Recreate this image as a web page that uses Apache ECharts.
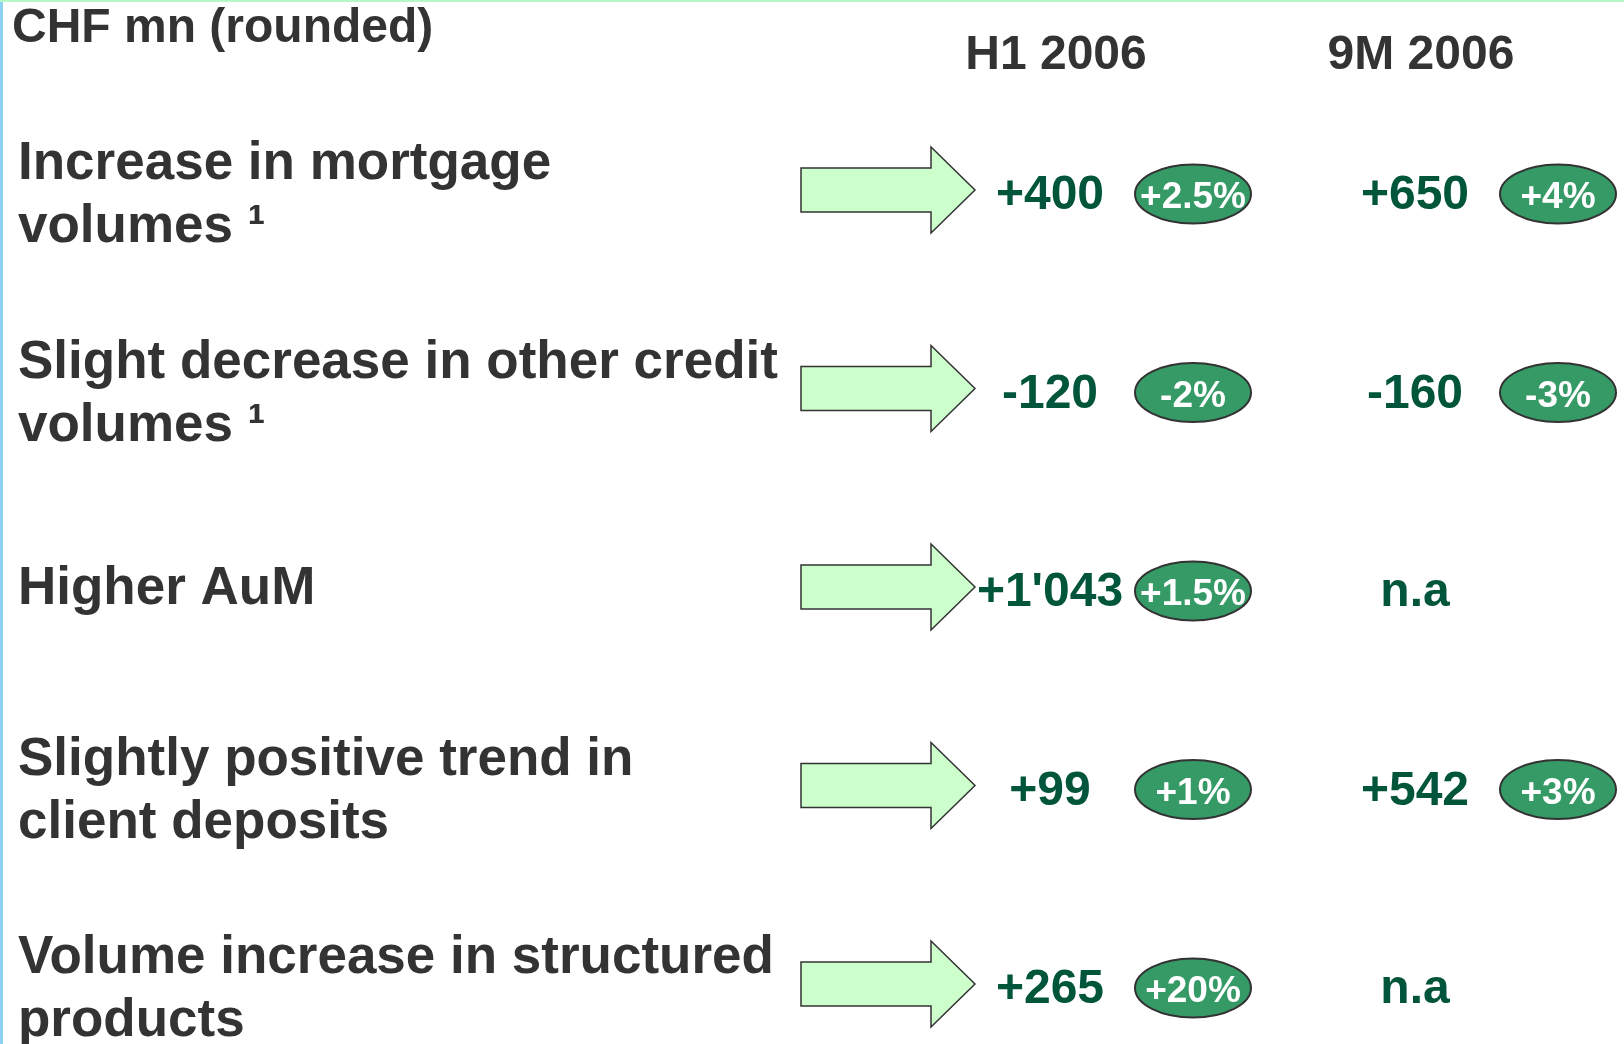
<!DOCTYPE html>
<html>
<head>
<meta charset="utf-8">
<script src="https://cdn.jsdelivr.net/npm/echarts@6/dist/echarts.min.js"></script>
<style>
  html, body { margin: 0; padding: 0; background: #fff; }
  #main { width: 1624px; height: 1044px; }
</style>
</head>
<body>
<div id="main"></div>
<script>
// data
const rowLabels = [
  'Increase in mortgage\nvolumes ¹',
  'Slight decrease in other credit\nvolumes ¹',
  'Higher AuM',
  'Slightly positive trend in\nclient deposits',
  'Volume increase in structured\nproducts'
];
const periods = ['H1 2006', '9M 2006'];
const h1Values = ['+400', '-120', "+1'043", '+99', '+265'];
const h1Pct = ['+2.5%', '-2%', '+1.5%', '+1%', '+20%'];
const m9Values = ['+650', '-160', 'n.a', '+542', 'n.a'];
const m9Pct = ['+4%', '-3%', null, '+3%', null];

const periodValues = [h1Values, m9Values];
const periodPct = [h1Pct, m9Pct];

const FONT = '"Liberation Sans", Arial, sans-serif';
const darkText = '#333333';
const valueGreen = '#00553a';

// 每行一个箭头，每个单元格一个数值
const arrowCells = rowLabels.map((r, i) => [0, i]);
const valueCells = [];
periods.forEach((p, pi) => {
  rowLabels.forEach((r, ri) => valueCells.push([pi, ri]));
});

const chart = echarts.init(document.getElementById('main'));

function renderArrow(params, api) {
  const c = api.coord([api.value(0), api.value(1)]);
  const x0 = c[0] - 249, xh = c[0] - 119, xt = c[0] - 75;
  const y = c[1] - 1;
  return {
    type: 'polygon',
    shape: {
      points: [
        [x0, y - 22], [xh, y - 22], [xh, y - 43], [xt, y],
        [xh, y + 43], [xh, y + 22], [x0, y + 22]
      ]
    },
    style: { fill: '#ccffcc', stroke: '#333333', lineWidth: 1.5 }
  };
}

function renderCell(params, api) {
  const pi = api.value(0), ri = api.value(1);
  const c = api.coord([pi, ri]);
  const children = [{
    type: 'text',
    style: {
      text: periodValues[pi][ri], x: c[0], y: c[1] + 5,
      fill: valueGreen, font: 'bold 48px ' + FONT,
      align: 'center', verticalAlign: 'middle'
    }
  }];
  const pct = periodPct[pi][ri];
  if (pct) {
    const ex = c[0] + 143, ey = c[1] + 3;
    children.push({
      type: 'ellipse',
      shape: { cx: ex, cy: ey, rx: 58, ry: 29.5 },
      style: { fill: '#359a66', stroke: '#333333', lineWidth: 2 }
    });
    children.push({
      type: 'text',
      style: {
        text: pct, x: ex, y: ey + 4,
        fill: '#ffffff', font: 'bold 37px ' + FONT,
        align: 'center', verticalAlign: 'middle'
      }
    });
  }
  return { type: 'group', children: children };
}

chart.setOption({
  animation: false,
  backgroundColor: '#ffffff',
  title: {
    text: 'CHF mn (rounded)',
    left: 12, top: 5, padding: 0,
    textStyle: { fontFamily: FONT, fontSize: 48, fontWeight: 'bold', color: darkText }
  },
  graphic: [
    { type: 'rect', left: 0, top: 0, shape: { width: 3, height: 1044 }, style: { fill: '#8fd0f5' } },
    { type: 'rect', left: 0, top: 0, shape: { width: 1624, height: 2 }, style: { fill: '#b6f7c8' } }
  ],
  grid: { left: 1050, right: 209, top: 191, bottom: 59, outerBoundsMode: 'none' },
  xAxis: {
    type: 'category',
    data: periods,
    position: 'top',
    boundaryGap: false,
    axisLine: { show: false },
    axisTick: { show: false },
    splitLine: { show: false },
    axisLabel: {
      interval: 0,
      margin: 135,
      verticalAlign: 'middle',
      padding: [0, 0, 0, 12],
      fontFamily: FONT, fontSize: 48, fontWeight: 'bold', color: darkText
    }
  },
  yAxis: {
    type: 'category',
    data: rowLabels,
    inverse: true,
    boundaryGap: false,
    axisLine: { show: false },
    axisTick: { show: false },
    splitLine: { show: false },
    axisLabel: {
      interval: 0,
      align: 'left',
      margin: 1032,
      lineHeight: 63,
      padding: [10, 0, 0, 0],
      formatter: function (v) {
        return v.indexOf('\n') < 0 ? '{one|' + v + '}' : v;
      },
      rich: {
        one: { padding: [0, 0, 8, 0] }
      },
      fontFamily: FONT, fontSize: 53, fontWeight: 'bold', color: darkText
    }
  },
  series: [
    { type: 'custom', data: arrowCells, renderItem: renderArrow, silent: true },
    { type: 'custom', data: valueCells, renderItem: renderCell, silent: true }
  ]
});
</script>
</body>
</html>
